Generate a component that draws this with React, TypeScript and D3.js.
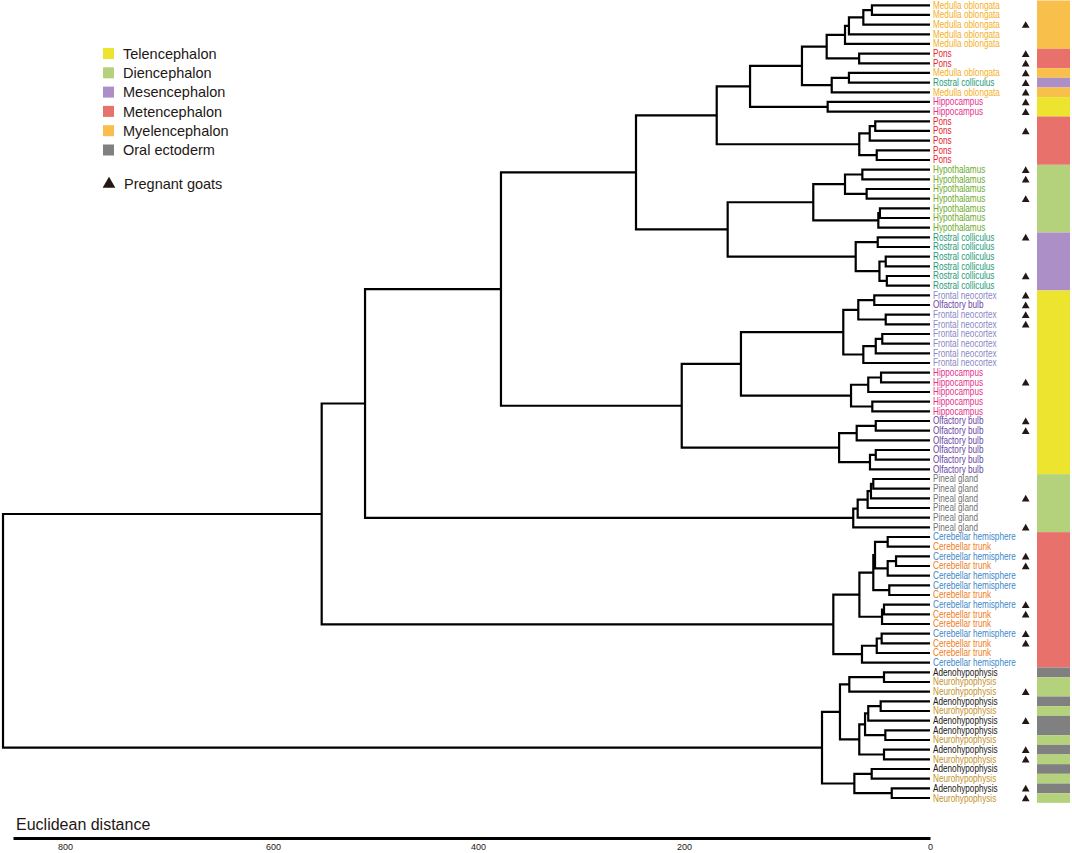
import React, { useRef, useEffect } from 'react';
import * as d3 from 'd3';

// a leaf is its index in leafTissue, an inner node is [distance, left, right]
type TreeNode = number | [number, TreeNode, TreeNode];

const regions = ['Telencephalon', 'Diencephalon', 'Mesencephalon', 'Metencephalon', 'Myelencephalon', 'Oral ectoderm'];
const regionColors = ['#ece42f', '#b4d17b', '#ab8fc6', '#e8716b', '#f9bf4b', '#808080'];

const tissueRegion: Record<string, string> = {
    'Medulla oblongata': 'Myelencephalon',
    'Pons': 'Metencephalon',
    'Rostral colliculus': 'Mesencephalon',
    'Hippocampus': 'Telencephalon',
    'Hypothalamus': 'Diencephalon',
    'Frontal neocortex': 'Telencephalon',
    'Olfactory bulb': 'Telencephalon',
    'Pineal gland': 'Diencephalon',
    'Cerebellar hemisphere': 'Metencephalon',
    'Cerebellar trunk': 'Metencephalon',
    'Adenohypophysis': 'Oral ectoderm',
    'Neurohypophysis': 'Diencephalon',
};

const tissueColor: Record<string, string> = {
    'Medulla oblongata': '#f4b01e',
    'Pons': '#e6232c',
    'Rostral colliculus': '#1e9b78',
    'Hippocampus': '#e5318b',
    'Hypothalamus': '#6dab2a',
    'Frontal neocortex': '#8a87c6',
    'Olfactory bulb': '#6a44a4',
    'Pineal gland': '#737373',
    'Cerebellar hemisphere': '#3d88c9',
    'Cerebellar trunk': '#ef7d1a',
    'Adenohypophysis': '#231815',
    'Neurohypophysis': '#c4922c',
};

const leafTissue = [
    'Medulla oblongata', 'Medulla oblongata', 'Medulla oblongata', 'Medulla oblongata', 'Medulla oblongata',
    'Pons', 'Pons',
    'Medulla oblongata', 'Rostral colliculus', 'Medulla oblongata',
    'Hippocampus', 'Hippocampus',
    'Pons', 'Pons', 'Pons', 'Pons', 'Pons',
    'Hypothalamus', 'Hypothalamus', 'Hypothalamus', 'Hypothalamus', 'Hypothalamus', 'Hypothalamus', 'Hypothalamus',
    'Rostral colliculus', 'Rostral colliculus', 'Rostral colliculus', 'Rostral colliculus', 'Rostral colliculus', 'Rostral colliculus',
    'Frontal neocortex', 'Olfactory bulb', 'Frontal neocortex', 'Frontal neocortex',
    'Frontal neocortex', 'Frontal neocortex', 'Frontal neocortex', 'Frontal neocortex',
    'Hippocampus', 'Hippocampus', 'Hippocampus', 'Hippocampus', 'Hippocampus',
    'Olfactory bulb', 'Olfactory bulb', 'Olfactory bulb', 'Olfactory bulb', 'Olfactory bulb', 'Olfactory bulb',
    'Pineal gland', 'Pineal gland', 'Pineal gland', 'Pineal gland', 'Pineal gland', 'Pineal gland',
    'Cerebellar hemisphere', 'Cerebellar trunk', 'Cerebellar hemisphere', 'Cerebellar trunk',
    'Cerebellar hemisphere', 'Cerebellar hemisphere', 'Cerebellar trunk',
    'Cerebellar hemisphere', 'Cerebellar trunk', 'Cerebellar trunk',
    'Cerebellar hemisphere', 'Cerebellar trunk', 'Cerebellar trunk', 'Cerebellar hemisphere',
    'Adenohypophysis', 'Neurohypophysis', 'Neurohypophysis',
    'Adenohypophysis', 'Neurohypophysis', 'Adenohypophysis', 'Adenohypophysis', 'Neurohypophysis',
    'Adenohypophysis', 'Neurohypophysis',
    'Adenohypophysis', 'Neurohypophysis', 'Adenohypophysis', 'Neurohypophysis',
];

const pregnantLeaves = [2, 5, 6, 7, 8, 9, 10, 11, 13, 17, 18, 20, 24, 28, 30, 31, 32, 33, 39, 43, 44,
    51, 54, 57, 58, 62, 63, 65, 66, 71, 74, 77, 78, 81, 82];

// clades, heights in Euclidean distance
const medullaPonsClade: TreeNode = [173.4,
    [146.3,
        [104.1,
            [84.0, [69.1, [65.9, [54.2, [47.2, 0, 1], 2], 3], 4], [57.6, 5, 6]],
            [79.9, [65.9, 7, 8], 9]],
        [83.2, 10, 11]],
    [57.5, [49.0, [44.5, 12, 13], 14], [43.3, 15, 16]]];

const hypothalamusClade: TreeNode = [94.9,
    [69.1, [55.0, 17, 18], [51.5, 19, 20]],
    [42.0, [40.7, 21, 22], 23]];

const colliculusClade: TreeNode = [60.4,
    [42.5, 24, 25],
    [41.1, [36.0, 26, 27], [35.1, 28, 29]]];

const telencephalonClade: TreeNode = [202.2,
    [153.7,
        [70.5,
            [58.3, [45.3, 30, 31], [36.0, 32, 33]],
            [54.2, [44.1, [38.8, 34, 35], 36], 37]],
        [64.2, [50.2, [39.8, 38, 39], 40], [46.9, 41, 42]]],
    [73.9, [59.6, [44.1, 43, 44], 45], [48.8, [44.1, 46, 47], 48]]];

const pinealClade: TreeNode = [62.4, [58.8, [50.7, [48.0, [46.1, 49, 50], 51], 52], 53], 54];

const cerebellumClade: TreeNode = [78.6,
    [57.4,
        [46.1,
            [44.7, [34.4, 55, 56], [34.4, [27.6, 57, 58], 59]],
            [33.1, 60, 61]],
        [39.0, [37.4, 62, 63], 64]],
    [55.3, [43.3, [39.3, 65, 66], 67], 68]];

const pituitaryClade: TreeNode = [87.8,
    [73.2,
        [65.6, [37.4, 69, 70], 71],
        [57.5,
            [52.8, [50.2, [40.1, 72, 73], 74], [36.3, 75, 76]],
            [37.4, 77, 78]]],
    [61.5, [47.4, 79, 80], [31.1, 81, 82]]];

const dendrogram: TreeNode = [859.6,
    [552.5,
        [510.2,
            [377.7,
                [246.6, medullaPonsClade, [164.5, hypothalamusClade, colliculusClade]],
                telencephalonClade],
            pinealClade],
        cerebellumClade],
    pituitaryClade];

const distanceTicks = [0, 200, 400, 600, 800];

const FONT = '"Liberation Sans", Arial, Helvetica, sans-serif';
const INK = '#231815';

const Dendrogram: React.FC = () => {
    const svgRef = useRef<SVGSVGElement>(null);

    useEffect(() => {
        if (!svgRef.current) return;
        const svg = d3.select(svgRef.current);
        svg.selectAll('*').remove();

        const step = 9.667;
        const top = 0.47;
        const height = (d: TreeNode) => (Array.isArray(d) ? d[0] : 0);

        const root = d3.hierarchy<TreeNode>(dendrogram, d => (Array.isArray(d) ? [d[1], d[2]] : null));
        d3.cluster<TreeNode>().size([step * leafTissue.length, 1]).separation(() => 1)(root);
        const yOf = (n: d3.HierarchyPointNode<TreeNode>) => n.x + top;

        // the printed axis is not evenly spaced, so follow its tick positions
        const xScale = d3.scaleLinear()
            .domain([0, 200, 400, 600, 800, 850])
            .range([930, 684, 478, 273, 65, 13]);

        // Branches
        const links = svg.append('g')
            .attr('fill', 'none')
            .attr('stroke', '#000')
            .attr('stroke-width', 2.2);

        root.descendants().forEach((n: any) => {
            if (!n.children) return;
            const [a, b] = n.children;
            const xn = xScale(height(n.data));
            links.append('path')
                .attr('d', `M${xScale(height(a.data))},${yOf(a)}H${xn}V${yOf(b)}H${xScale(height(b.data))}`);
        });

        const leaves = root.leaves() as d3.HierarchyPointNode<TreeNode>[];

        // Leaf labels
        leaves.forEach(leaf => {
            const tissue = leafTissue[leaf.data as number];
            svg.append('text')
                .attr('transform', `translate(933,${yOf(leaf)}) scale(0.82,1)`)
                .attr('dy', '0.35em')
                .attr('font-family', FONT)
                .attr('font-size', 10)
                .attr('fill', tissueColor[tissue])
                .text(tissue);
        });

        // Pregnant goats
        const tri = d3.symbol().type(d3.symbolTriangle);
        leaves.forEach(leaf => {
            if (!pregnantLeaves.includes(leaf.data as number)) return;
            svg.append('path')
                .attr('d', tri.size(26)()!)
                .attr('transform', `translate(1025.7,${yOf(leaf) + 1})`)
                .attr('fill', INK);
        });

        // Region colour bar, one block per run of the same region
        const runs: { region: string; first: number; last: number }[] = [];
        leaves.forEach((leaf, i) => {
            const region = tissueRegion[leafTissue[leaf.data as number]];
            const prev = runs[runs.length - 1];
            if (prev && prev.region === region) prev.last = i;
            else runs.push({ region, first: i, last: i });
        });
        runs.forEach(run => {
            const y0 = yOf(leaves[run.first]) - step / 2;
            const y1 = yOf(leaves[run.last]) + step / 2;
            svg.append('rect')
                .attr('x', 1037)
                .attr('y', y0)
                .attr('width', 33)
                .attr('height', y1 - y0)
                .attr('fill', regionColors[regions.indexOf(run.region)]);
        });

        // Axis
        const axis = d3.axisBottom(xScale)
            .tickValues(distanceTicks)
            .tickSize(0)
            .tickSizeOuter(0)
            .tickPadding(6);

        const ag = svg.append('g')
            .attr('transform', 'translate(0,838)')
            .call(axis);
        ag.select('.domain').attr('stroke', '#000').attr('stroke-width', 3);
        ag.selectAll('text')
            .attr('font-family', FONT)
            .attr('font-size', 9)
            .attr('fill', INK);

        svg.append('text')
            .attr('x', 16)
            .attr('y', 830)
            .attr('font-family', FONT)
            .attr('font-size', 16)
            .attr('fill', INK)
            .text('Euclidean distance');

        // Legend
        const legend = svg.append('g').attr('font-family', FONT).attr('font-size', 14.5).attr('fill', INK);
        regions.forEach((r, i) => {
            const cy = 53.5 + i * 19.3;
            legend.append('rect')
                .attr('x', 103)
                .attr('y', cy - 5.5)
                .attr('width', 11)
                .attr('height', 11)
                .attr('fill', regionColors[i]);
            legend.append('text')
                .attr('x', 123)
                .attr('y', cy)
                .attr('dy', '0.36em')
                .text(r);
        });
        legend.append('path')
            .attr('d', tri.size(70)()!)
            .attr('transform', 'translate(109,184)')
            .attr('fill', INK);
        legend.append('text')
            .attr('x', 124)
            .attr('y', 184)
            .attr('dy', '0.36em')
            .text('Pregnant goats');
    }, []);

    return (
        <svg
            ref={svgRef}
            width={1072}
            height={853}
            style={{ position: 'absolute', left: 0, top: 0, background: '#fff' }}
        />
    );
};

export default function App() {
    return <Dendrogram />;
}
